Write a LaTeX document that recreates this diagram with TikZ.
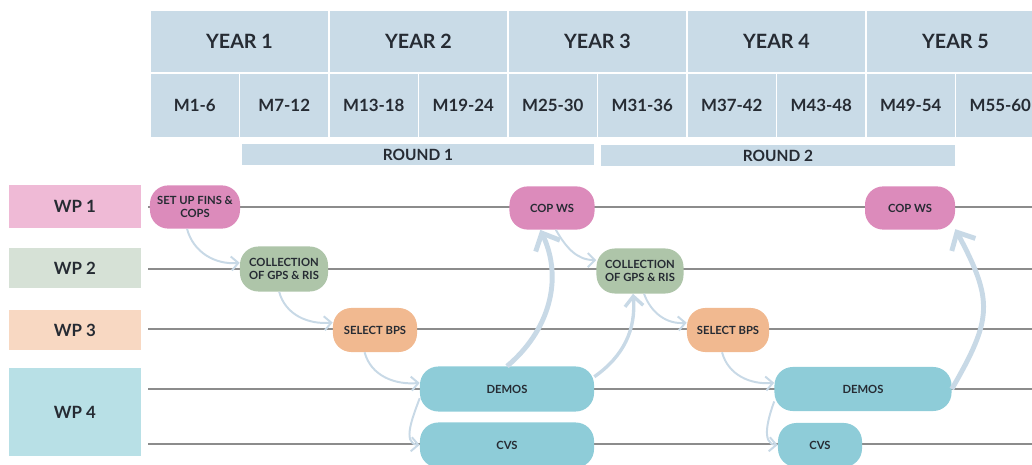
\documentclass[tikz,border=0pt]{standalone}
\usepackage{fontspec}
\setmainfont{Lato}
\usepackage{xcolor}
\usetikzlibrary{positioning,calc,arrows.meta}
\definecolor{hdr}{HTML}{C9DBE7}
\definecolor{wpone}{HTML}{EFBAD6}
\definecolor{wptwo}{HTML}{D6E1D6}
\definecolor{wpthree}{HTML}{F8D8C2}
\definecolor{wpfour}{HTML}{B8E0E6}
\definecolor{pinknode}{HTML}{DC8BBB}
\definecolor{greennode}{HTML}{AEC5A9}
\definecolor{orangenode}{HTML}{F1B990}
\definecolor{bluenode}{HTML}{8ECCD8}
\definecolor{flow}{HTML}{C8D9E6}
\definecolor{trackgray}{HTML}{8C8C8C}
\definecolor{txt}{HTML}{262B33}

\begin{document}
\begin{tikzpicture}[x=0.025cm, y=-0.025cm,
    hdrcell/.style={rectangle, draw=white, line width=1pt, fill=hdr, text=txt, inner sep=0pt},
    yearcell/.style={hdrcell, minimum width=4.475cm, minimum height=1.575cm, font=\fontsize{14}{16}\selectfont\bfseries},
    monthcell/.style={hdrcell, minimum width=2.2375cm, minimum height=1.625cm, font=\fontsize{12}{14}\selectfont\bfseries},
    roundbar/.style={rectangle, fill=hdr, text=txt, minimum height=0.53cm, inner sep=0pt, font=\fontsize{11}{13}\selectfont\bfseries},
    wplabel/.style={rectangle, minimum width=3.3cm, text=txt, font=\fontsize{12}{14}\selectfont\bfseries},
    task/.style={rectangle, rounded corners=13pt, minimum height=1.08cm, inner sep=2pt, align=center, text=txt, font=\fontsize{8}{9}\selectfont\bfseries},
    track/.style={draw=trackgray, line width=1pt},
    flowto/.style={draw=flow, line width=1.4pt, -{Straight Barb[length=5pt,width=10pt]}},
    midflow/.style={draw=flow, line width=2.4pt, -{Straight Barb[length=7pt,width=13pt]}},
    bigflow/.style={draw=flow, line width=3.5pt, -{Straight Barb[length=10pt,width=19pt]}}
]
\useasboundingbox (0,0) rectangle (1032,465);

% header
\foreach \i in {1,...,5}
    \node[yearcell] (year\i) at ({150+179*(\i-0.5)},41.5) {YEAR \i};
\foreach \lab [count=\i] in {M1-6,M7-12,M13-18,M19-24,M25-30,M31-36,M37-42,M43-48,M49-54,M55-60}
    \node[monthcell] (month\i) at ({150+89.5*(\i-0.5)},105.5) {\lab};
\node[roundbar, minimum width=8.8cm] (round1) at (418,154.5) {ROUND 1};
\node[roundbar, minimum width=8.85cm] (round2) at (778,155.5) {ROUND 2};

% work packages
\node[wplabel, fill=wpone, minimum height=1.075cm] (wp1) at (75,206.5) {WP 1};
\node[wplabel, fill=wptwo, minimum height=1cm] (wp2) at (75,268) {WP 2};
\node[wplabel, fill=wpthree, minimum height=1cm] (wp3) at (75,330) {WP 3};
\node[wplabel, fill=wpfour, minimum height=2.2cm] (wp4) at (75,412) {WP 4};

% tracks
\foreach \y [count=\i] in {207,269,329,389,444} {
    \coordinate (start\i) at (148,\y);
    \coordinate (end\i) at (1032,\y);
    \draw[track] (start\i) -- (end\i);
}

% tasks
\node[task, fill=pinknode, minimum width=2.25cm] (setup) at (195,207) {SET UP FINS \&\\COPS};
\node[task, fill=pinknode, minimum width=2.125cm] (copA) at (552,208) {COP WS};
\node[task, fill=pinknode, minimum width=2.25cm] (copB) at (910,208) {COP WS};
\node[task, fill=greennode, minimum width=2.2cm, minimum height=1.125cm] (colA) at (284,269) {COLLECTION\\OF GPS \& RIS};
\node[task, fill=greennode, minimum width=2.175cm, minimum height=1.125cm] (colB) at (640,271) {COLLECTION\\OF GPS \& RIS};
\node[task, fill=orangenode, minimum width=2.1cm, minimum height=1.1cm] (selA) at (375,330) {SELECT BPS};
\node[task, fill=orangenode, minimum width=2.05cm, minimum height=1.1cm] (selB) at (728,330) {SELECT BPS};
\node[task, fill=bluenode, minimum width=4.35cm, minimum height=1.125cm] (demA) at (507,389) {DEMOS};
\node[task, fill=bluenode, minimum width=4.425cm, minimum height=1.1cm] (demB) at (863,389) {DEMOS};
\node[task, fill=bluenode, minimum width=4.35cm, minimum height=1.125cm] (cvsA) at (507,445) {CVS};
\node[task, fill=bluenode, minimum width=2.1cm, minimum height=1.1cm] (cvsB) at (820,445) {CVS};

% flows
\draw[flowto] (setup.250) to[out=-75, in=185] (colA.172);
\draw[flowto] (colA.258) to[out=-75, in=185] (selA.170);
\draw[flowto] (selA.245) to[out=-75, in=185] (demA.176);
\draw[flowto] (demA.186) to[out=-110, in=175] (cvsA.west);
\draw[bigflow] (demA.north) to[out=40, in=-65] (copA.242);
\draw[flowto] (copA.-80) to[out=-60, in=180] (colB.166);
\draw[midflow] (demA.8) to[out=35, in=-85] (colB.253);
\draw[flowto] (colB.-80) to[out=-70, in=185] (selB.170);
\draw[flowto] (selB.-105) to[out=-75, in=185] (demB.176);
\draw[flowto] (demB.188) to[out=-110, in=175] (cvsB.west);
\draw[bigflow] (demB.east) to[out=60, in=-62, looseness=1.3] (copB.-25);
\end{tikzpicture}
\end{document}
